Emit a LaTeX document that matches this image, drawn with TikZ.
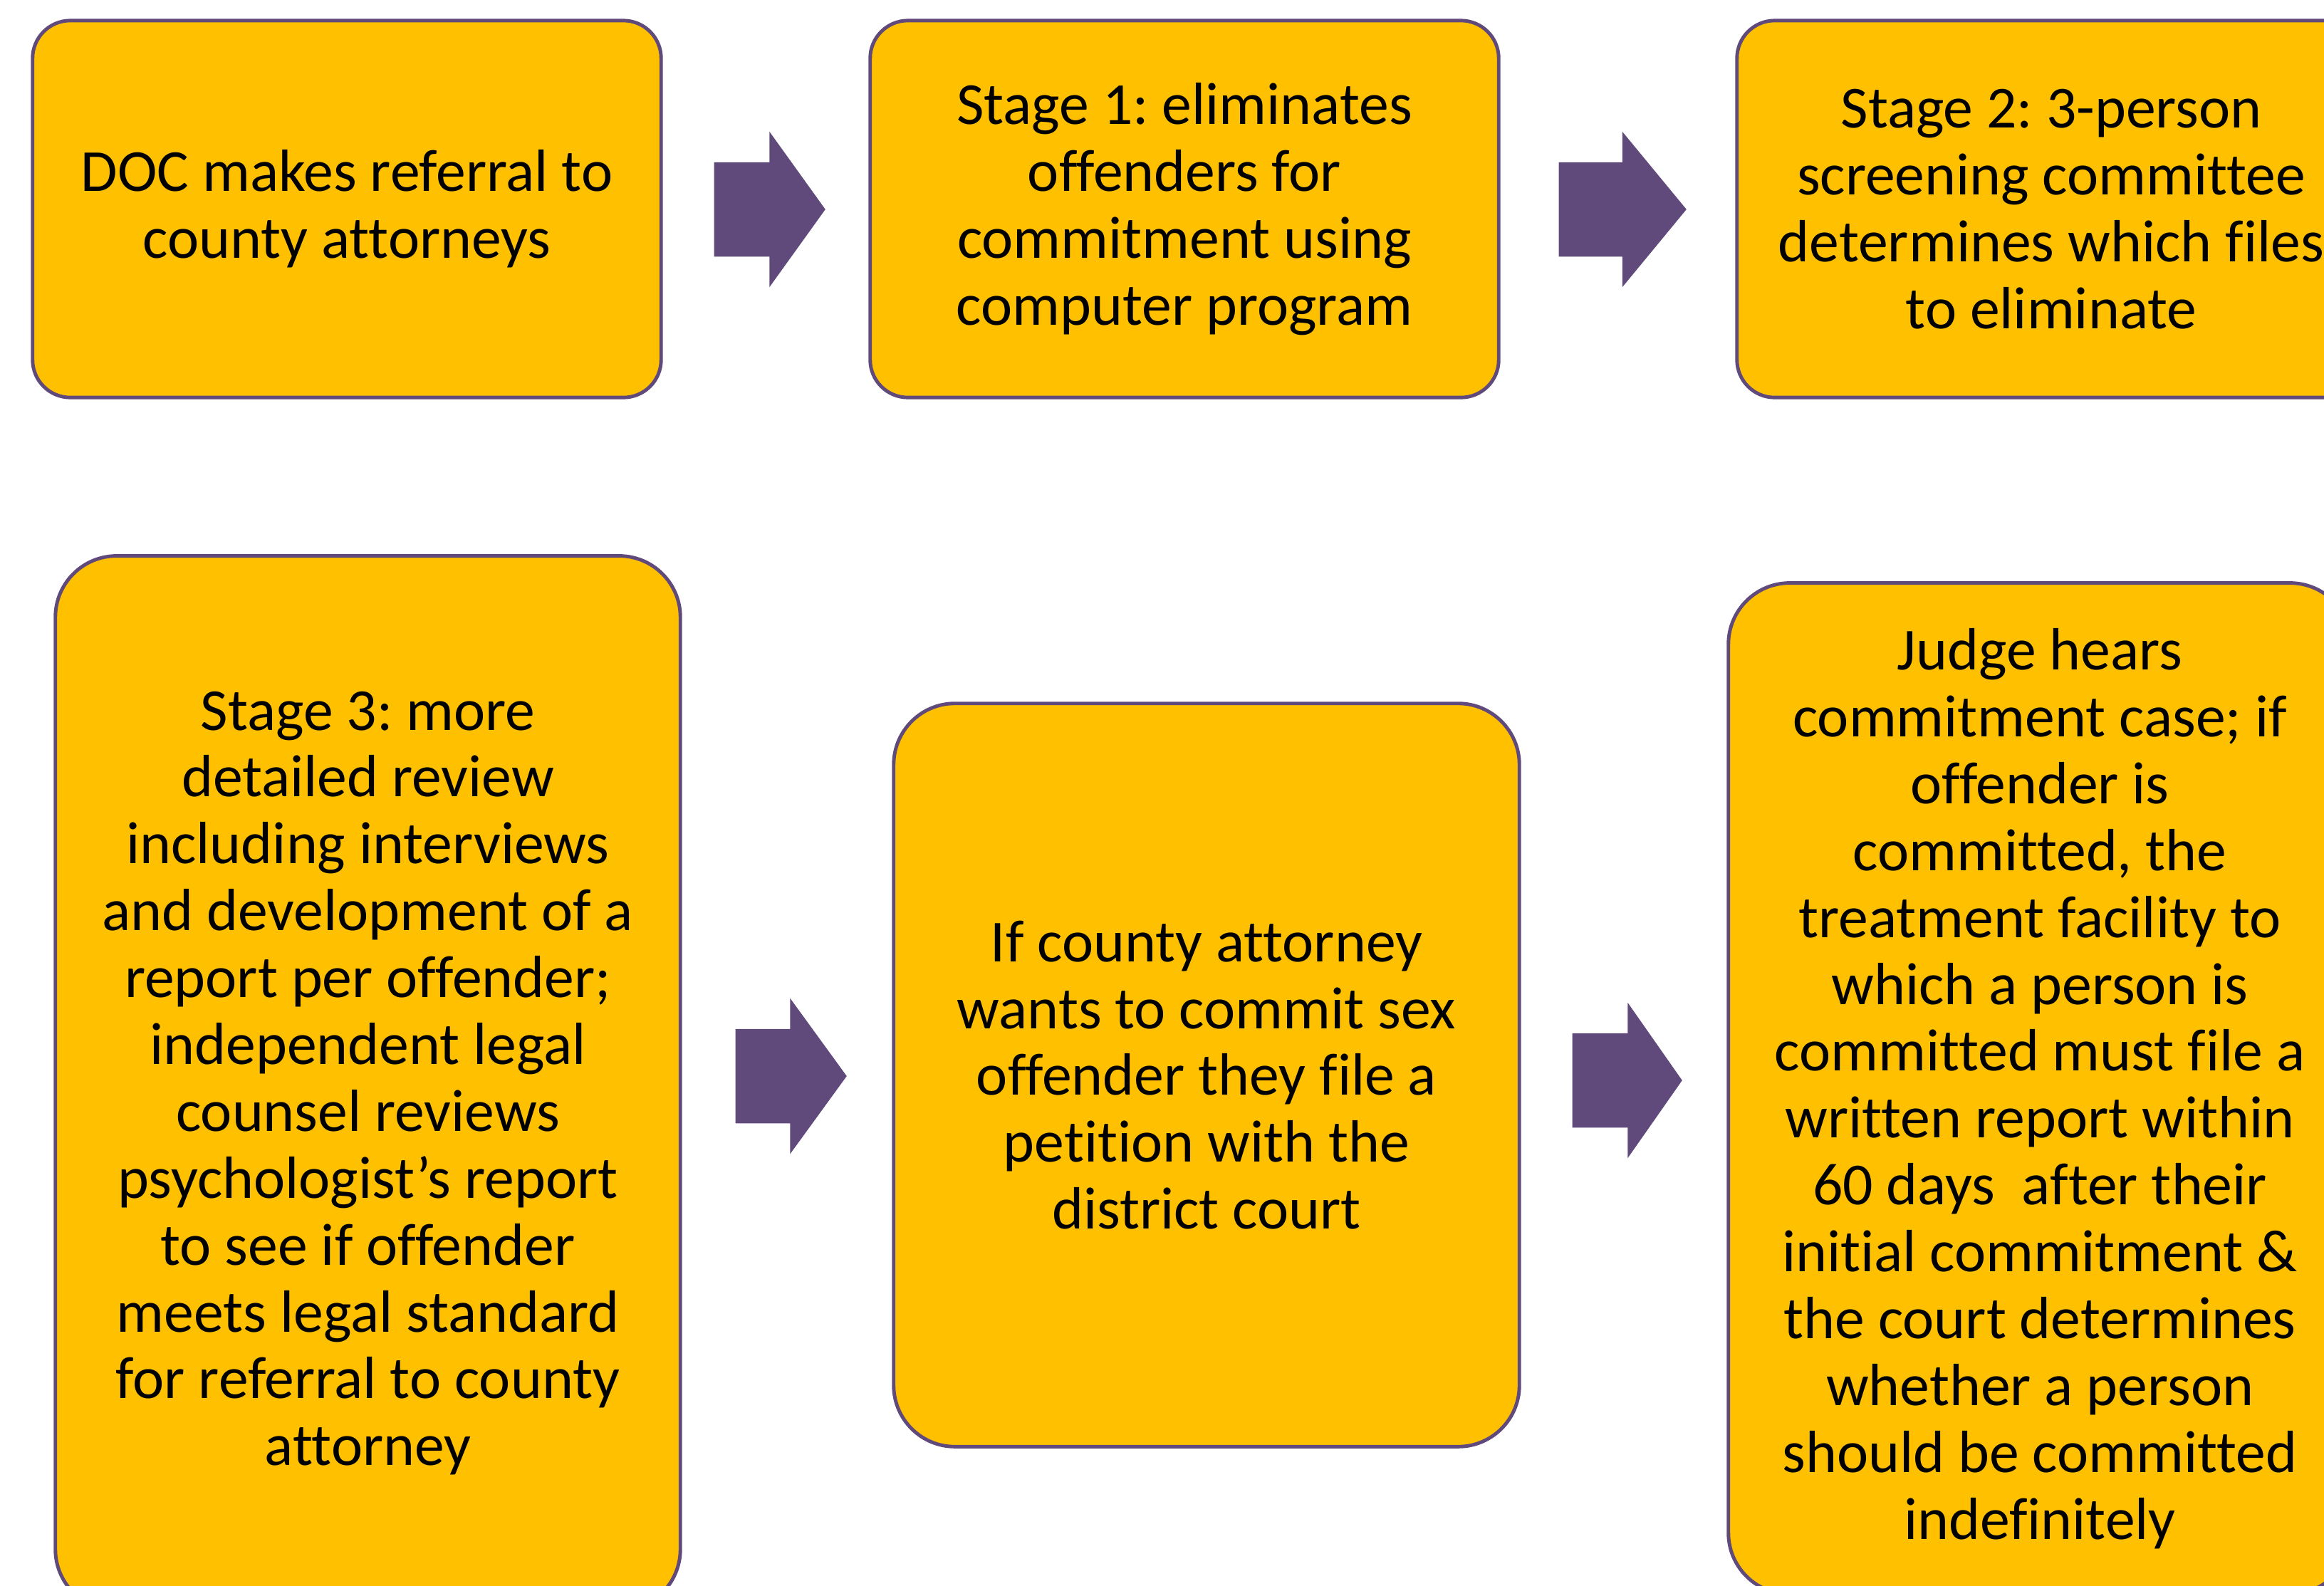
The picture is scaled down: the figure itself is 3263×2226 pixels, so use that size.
\documentclass[tikz,border=0pt]{standalone}
\usepackage{fontspec}
\setmainfont{Carlito}[Ligatures={NoCommon,NoContextual}]
\frenchspacing
\usetikzlibrary{shapes.arrows}

\definecolor{boxgold}{HTML}{FFC000}
\definecolor{edgepurple}{HTML}{604A7B}

\tikzset{
    stagebox/.style={rectangle, draw=edgepurple, line width=1.4pt, fill=boxgold,
        align=center, inner sep=0pt, font=\fontsize{23.8}{26.7}\selectfont},
    bigarrow/.style={single arrow, fill=edgepurple, draw=none, anchor=tail,
        inner sep=0pt, inner ysep=0.655cm, single arrow head extend=0.43cm}
}

\begin{document}
\begin{tikzpicture}[x=0.01cm, y=-0.01cm]
        \useasboundingbox (0,0) rectangle (3263,2226);
        \clip (0,0) rectangle (3263,2226);
        % top row
        \node[stagebox, minimum width=8.82cm, minimum height=5.29cm, rounded corners=0.53cm] at (487,293.5) (doc)
            {DOC makes referral to\\county attorneys};
        \node[stagebox, minimum width=8.82cm, minimum height=5.29cm, rounded corners=0.53cm] at (1663,293.5) (stageone)
            {Stage 1: eliminates\\offenders for\\commitment using\\computer program};
        \node[stagebox, minimum width=8.82cm, minimum height=5.29cm, rounded corners=0.53cm] at (2880,293.5) (stagetwo)
            {Stage 2: 3-person\\screening committee\\determines which files\\to eliminate};
        % bottom row
        \node[stagebox, minimum width=8.77cm, minimum height=14.8cm, rounded corners=0.86cm] at (516.5,1521) (stagethree)
            {Stage 3: more\\detailed review\\including interviews\\and development of a\\report per offender;\\independent legal\\counsel reviews\\psychologist’s report\\to see if offender\\meets legal standard\\for referral to county\\attorney};
        \node[stagebox, minimum width=8.78cm, minimum height=10.43cm, rounded corners=0.86cm] at (1694,1509.5) (petition)
            {If county attorney\\wants to commit sex\\offender they file a\\petition with the\\district court};
        \node[stagebox, minimum width=8.74cm, minimum height=14.19cm, rounded corners=0.86cm] at (2864,1528.5) (hearing)
            {Judge hears\\commitment case; if\\offender is\\committed, the\\treatment facility to\\which a person is\\committed must file a\\written report within\\60 days\ \ after their\\initial commitment \&\\the court determines\\whether a person\\should be committed\\indefinitely};
        % block arrows between the boxes
        \node[bigarrow, minimum height=1.56cm, single arrow tip angle=108.6] at (1002,294) (a) {};
        \node[bigarrow, minimum height=1.79cm, single arrow tip angle=101] at (2188,294) (b) {};
        \node[bigarrow, minimum height=1.56cm, single arrow tip angle=108] at (1032,1511) (c) {};
        \node[bigarrow, minimum height=1.54cm, single arrow tip angle=110] at (2207,1517) (d) {};
    \end{tikzpicture}
\end{document}
